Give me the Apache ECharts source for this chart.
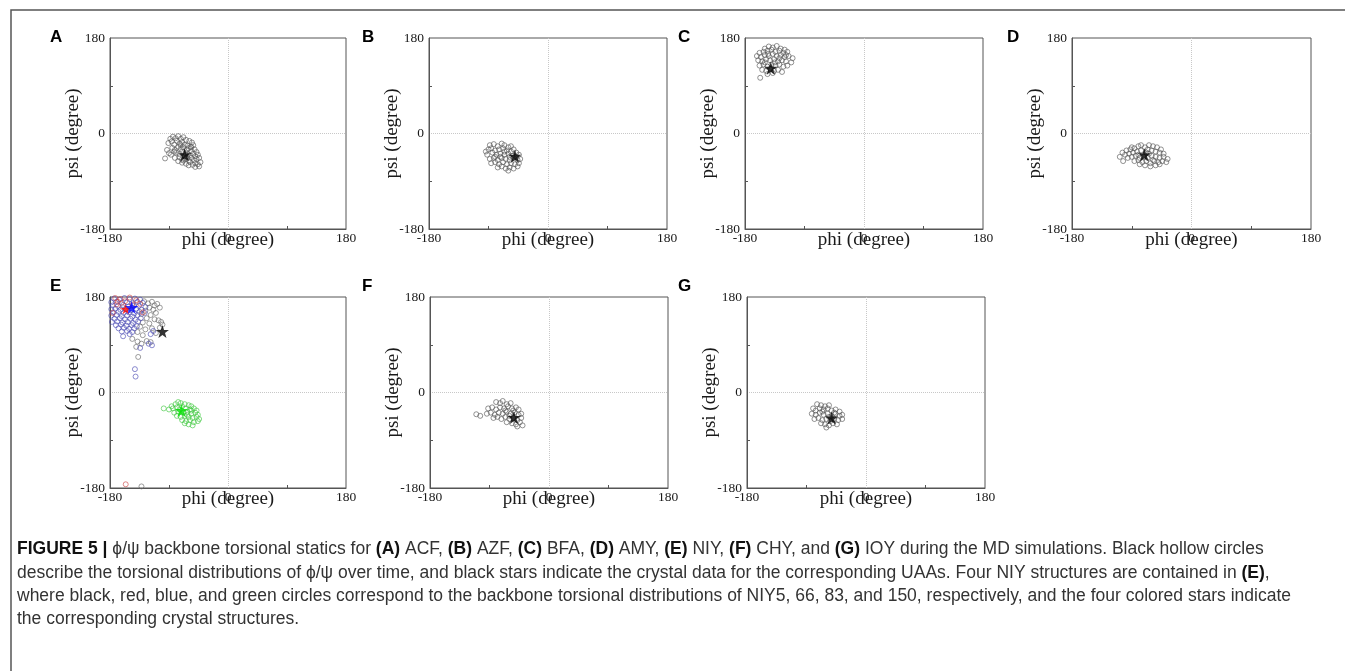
<!DOCTYPE html>
<html>
<head>
<meta charset="utf-8">
<script src="https://cdn.jsdelivr.net/npm/echarts@6/dist/echarts.min.js"></script>
<style>
  html, body { margin: 0; padding: 0; background: #fff; }
  #chart { width: 1345px; height: 671px; }
</style>
</head>
<body>
<div id="chart"></div>
<script>
// phi/psi pairs
var aPts = [[-88,-10],[-84,-6],[-80,-9],[-76,-5],[-72,-10],[-68,-7],[-64,-12],[-59,-14],[-55,-17],
  [-91,-18],[-86,-15],[-82,-21],[-78,-14],[-74,-19],[-70,-16],[-66,-21],[-62,-23],[-57,-25],[-53,-22],
  [-93,-31],[-85,-27],[-81,-31],[-76,-25],[-72,-29],[-68,-26],[-63,-31],[-60,-28],[-56,-33],[-51,-30],[-48,-35],
  [-96,-47],[-87,-40],[-79,-36],[-74,-39],[-70,-34],[-65,-37],[-61,-39],[-58,-41],[-53,-38],[-50,-43],[-46,-40],
  [-81,-46],[-74,-45],[-70,-49],[-64,-47],[-60,-51],[-56,-46],[-52,-50],[-48,-48],[-44,-46],
  [-70,-55],[-64,-57],[-58,-54],[-54,-59],[-50,-56],[-46,-58],[-42,-54],[-44,-62],[-50,-63],[-60,-60],
  [-90,-37],[-82,-34],[-66,-43],[-72,-22],[-62,-45],[-56,-26],[-68,-51],[-76,-52]];
var aStar = [[-66,-40]];

var bPts = [[-88,-22],[-82,-20],[-76,-24],[-70,-19],[-66,-22],[-60,-26],[-56,-24],
  [-90,-30],[-86,-28],[-80,-32],[-74,-30],[-68,-28],[-62,-32],[-56,-34],[-52,-30],[-48,-36],
  [-92,-40],[-84,-36],[-78,-40],[-72,-38],[-66,-40],[-60,-38],[-54,-42],[-48,-44],[-44,-40],
  [-88,-48],[-82,-46],[-76,-50],[-70,-46],[-64,-48],[-58,-50],[-52,-46],[-46,-50],[-42,-48],
  [-86,-56],[-80,-54],[-74,-58],[-68,-54],[-62,-58],[-56,-56],[-50,-58],[-44,-56],
  [-76,-64],[-70,-62],[-64,-66],[-58,-64],[-52,-66],[-46,-62],[-60,-70],
  [-94,-34],[-72,-44],[-66,-34],[-58,-44],[-80,-44]];
var bStar = [[-50,-43]];

var cPts = [[-150,160],[-144,164],[-138,162],[-132,165],[-126,160],[-120,158],
  [-158,152],[-152,154],[-146,156],[-140,158],[-134,154],[-128,156],[-122,152],[-116,154],
  [-162,146],[-156,144],[-150,148],[-144,146],[-138,150],[-132,146],[-126,148],[-120,144],[-114,146],[-108,142],
  [-160,138],[-154,136],[-148,140],[-142,138],[-136,140],[-130,136],[-124,138],[-118,136],[-110,134],
  [-158,128],[-152,130],[-146,126],[-140,130],[-134,128],[-128,130],[-122,126],[-116,128],
  [-154,120],[-148,118],[-142,122],[-136,118],[-130,120],[-124,116],
  [-146,112],[-138,114],[-157,105],
  [-145,150],[-135,134],[-128,142],[-150,134],[-118,148]];
var cStar = [[-141,123]];

var dPts = [[-104,-36],[-98,-32],[-92,-30],[-86,-28],[-80,-24],[-76,-22],[-70,-26],[-64,-22],[-58,-24],[-52,-26],[-46,-30],
  [-108,-44],[-100,-40],[-94,-38],[-88,-36],[-82,-34],[-76,-32],[-66,-30],[-60,-32],[-54,-34],[-48,-36],[-42,-38],
  [-103,-52],[-96,-46],[-90,-44],[-84,-42],[-78,-46],[-72,-44],[-66,-46],[-60,-42],[-54,-44],[-48,-46],[-42,-44],[-36,-48],
  [-86,-52],[-80,-50],[-74,-54],[-68,-52],[-62,-56],[-56,-52],[-50,-54],[-44,-52],[-38,-54],
  [-78,-58],[-70,-60],[-62,-62],[-54,-60],[-48,-58],
  [-90,-26],[-64,-38],[-58,-50],[-68,-36],[-80,-40]];
var dStar = [[-71,-40]];

var eBlue = [[-174,177],[-166,175],[-158,178],[-150,176],[-142,177],[-134,175],
  [-178,170],[-170,171],[-162,169],[-154,170],[-146,168],[-138,171],[-130,169],
  [-176,164],[-168,163],[-160,165],[-152,162],[-144,164],[-136,163],[-126,161],
  [-178,157],[-172,158],[-164,156],[-156,157],[-148,155],[-140,158],[-132,156],
  [-175,151],[-167,152],[-159,150],[-151,151],[-143,149],[-135,152],[-127,150],
  [-178,145],[-170,146],[-162,144],[-154,145],[-146,143],[-138,146],
  [-173,139],[-165,140],[-157,138],[-149,139],[-141,137],[-133,140],
  [-177,133],[-169,134],[-161,132],[-153,133],[-145,131],[-137,134],
  [-171,127],[-163,128],[-155,126],[-147,127],[-139,125],
  [-167,121],[-159,122],[-151,120],[-143,121],
  [-162,115],[-154,116],[-146,114],
  [-160,106],[-150,110],[-118,110],[-114,116],[-121,92],[-116,89],[-142,44],[-141,30],[-134,84]];
var eBlack = [[-128,172],[-122,168],[-116,171],[-112,164],[-108,167],[-104,160],[-120,160],[-114,156],
  [-126,154],[-110,150],[-118,146],[-132,148],[-124,140],[-112,138],[-106,136],[-130,132],[-120,130],
  [-100,128],[-134,124],[-126,119],[-116,121],[-138,114],[-130,108],[-104,122],[-110,112],[-146,101],
  [-138,96],[-132,92],[-124,97],[-140,86],[-118,95],[-137,67],[-132,-177],[-102,133]];
var eRed = [[-172,178],[-164,176],[-157,172],[-150,179],[-170,166],[-161,161],[-140,174],[-134,167],
  [-146,165],[-176,150],[-130,151],[-168,171],[-156,-173]];
var eGreen = [[-98,-30],[-86,-26],[-80,-22],[-76,-18],[-72,-20],[-66,-22],[-60,-24],[-56,-26],
  [-90,-32],[-84,-30],[-78,-28],[-70,-26],[-64,-30],[-58,-32],[-52,-30],[-48,-34],
  [-82,-38],[-76,-36],[-68,-38],[-62,-36],[-56,-40],[-50,-38],[-46,-42],
  [-78,-44],[-72,-46],[-66,-44],[-60,-46],[-54,-48],[-48,-46],[-44,-50],
  [-70,-52],[-64,-54],[-58,-52],[-52,-56],[-46,-54],[-60,-60],[-54,-62],[-66,-58],
  [-74,-32],[-62,-42],[-56,-34]];
var eStarBlack = [[-100,115]];
var eStarRed = [[-156,157]];
var eStarBlue = [[-147,160]];
var eStarGreen = [[-71,-34]];

var fPts = [[-110,-41],[-104,-44],
  [-80,-18],[-74,-20],[-70,-16],[-64,-22],[-58,-20],
  [-92,-30],[-86,-28],[-80,-32],[-74,-28],[-68,-30],[-62,-26],[-56,-30],[-50,-28],[-46,-32],
  [-94,-40],[-88,-38],[-82,-42],[-76,-38],[-70,-40],[-64,-36],[-58,-40],[-52,-38],[-46,-42],[-42,-40],
  [-84,-48],[-78,-46],[-72,-50],[-66,-46],[-60,-50],[-54,-48],[-48,-52],[-42,-48],
  [-64,-56],[-56,-58],[-50,-60],[-44,-56],[-40,-62],[-48,-64],
  [-66,-34],[-60,-44],[-54,-34]];
var fStar = [[-53,-47]];

var gPts = [[-74,-22],[-68,-24],[-62,-26],[-56,-24],
  [-80,-30],[-76,-34],[-70,-30],[-64,-32],[-58,-30],[-52,-34],[-46,-32],[-40,-36],
  [-82,-40],[-76,-42],[-70,-38],[-64,-42],[-58,-40],[-52,-44],[-46,-40],[-40,-44],[-36,-42],
  [-78,-50],[-72,-48],[-66,-52],[-60,-50],[-54,-54],[-48,-50],[-42,-52],[-36,-50],
  [-68,-58],[-62,-60],[-56,-62],[-50,-58],[-44,-60],[-60,-66],
  [-66,-36],[-56,-46],[-48,-38]];
var gStar = [[-52,-48]];

var panelLetters = ["A", "B", "C", "D", "E", "F", "G"];
var captionLines = [
  "{b|FIGURE 5 |} ϕ/ψ backbone torsional statics for {b|(A)} ACF, {b|(B)} AZF, {b|(C)} BFA, {b|(D)} AMY, {b|(E)} NIY, {b|(F)} CHY, and {b|(G)} IOY during the MD simulations. Black hollow circles",
  "describe the torsional distributions of ϕ/ψ over time, and black stars indicate the crystal data for the corresponding UAAs. Four NIY structures are contained in {b|(E)},",
  "where black, red, blue, and green circles correspond to the backbone torsional distributions of NIY5, 66, 83, and 150, respectively, and the four colored stars indicate",
  "the corresponding crystal structures."
];

var SERIF = "Liberation Serif";
var SANS = "Liberation Sans";
var STAR = "path://M50,2 L61.8,36.4 L98,36.4 L68.9,57.8 L79.9,92.5 L50,71.2 L20.1,92.5 L31.1,57.8 L2,36.4 L38.2,36.4 Z";

var boxes = [
  { left: 110, top: 38, width: 236, lx: 50, ly: 37 },
  { left: 429, top: 38, width: 238, lx: 362, ly: 37 },
  { left: 745, top: 38, width: 238, lx: 678, ly: 37 },
  { left: 1072, top: 38, width: 239, lx: 1007, ly: 37 },
  { left: 110, top: 297, width: 236, lx: 50, ly: 286 },
  { left: 430, top: 297, width: 238, lx: 362, ly: 286 },
  { left: 747, top: 297, width: 238, lx: 678, ly: 286 }
];

function axisBase(i, name, gap, labelMargin) {
  return {
    gridIndex: i,
    type: "value",
    min: -180,
    max: 180,
    interval: 180,
    name: name,
    nameLocation: "middle",
    nameGap: gap,
    nameMoveOverlap: false,
    nameTextStyle: { fontFamily: SERIF, fontSize: 19, color: "#1a1a1a" },
    axisLine: { show: true, onZero: false, lineStyle: { color: "#555", width: 1 } },
    axisTick: { show: false, inside: true },
    minorTick: { show: true, splitNumber: 2, length: 3, lineStyle: { color: "#555" } },
    axisLabel: { margin: labelMargin, fontFamily: SERIF, fontSize: 13.5, color: "#1a1a1a" },
    splitLine: { show: true, showMinLine: false, showMaxLine: false,
      lineStyle: { color: "#c8c8c8", type: "dotted", width: 1 } }
  };
}

function circles(i, data, color) {
  return {
    type: "scatter", xAxisIndex: i, yAxisIndex: i, data: data,
    symbol: "circle", symbolSize: 5, silent: true,
    itemStyle: { color: "rgba(0,0,0,0)", borderColor: color, borderWidth: 0.8 }
  };
}

function star(i, data, color, size) {
  return {
    type: "scatter", xAxisIndex: i, yAxisIndex: i, data: data, z: 5,
    symbol: STAR, symbolSize: size || 13, silent: true,
    itemStyle: { color: color }
  };
}

var grids = [], xAxes = [], yAxes = [], graphics = [];
boxes.forEach(function (b, i) {
  grids.push({ left: b.left, top: b.top, width: b.width, height: 191, show: true,
    borderColor: "#555", borderWidth: 1, outerBoundsMode: "none" });
  xAxes.push(axisBase(i, "phi (degree)", 2, 2));
  yAxes.push(axisBase(i, "psi (degree)", 27, 5));
  graphics.push({ type: "text", x: b.lx, y: b.ly,
    style: { text: panelLetters[i], fontFamily: SANS, fontSize: 17, fontWeight: "bold",
      fill: "#000", verticalAlign: "middle" } });
});

var series = [
  circles(0, aPts, "#555"), star(0, aStar, "#000"),
  circles(1, bPts, "#555"), star(1, bStar, "#000"),
  circles(2, cPts, "#555"), star(2, cStar, "#000"),
  circles(3, dPts, "#555"), star(3, dStar, "#000"),
  circles(4, eBlack, "#666"), circles(4, eBlue, "#4a4ab4"), circles(4, eRed, "#cc4444"),
  circles(4, eGreen, "#3fc83f"),
  star(4, eStarBlack, "#000"), star(4, eStarRed, "#ff0000", 10), star(4, eStarBlue, "#0000ff"),
  star(4, eStarGreen, "#00e000"),
  circles(5, fPts, "#555"), star(5, fStar, "#000"),
  circles(6, gPts, "#555"), star(6, gStar, "#000")
];

// frame around the figure
graphics.push({ type: "rect", shape: { x: 11, y: 10, width: 1400, height: 700 },
  style: { fill: "none", stroke: "#555", lineWidth: 1.5 } });

var lineY = [549, 573, 596, 619];
captionLines.forEach(function (t, k) {
  graphics.push({ type: "text", x: 17, y: lineY[k],
    style: { text: t, fontFamily: SANS, fontSize: 17.5, fill: "#333", verticalAlign: "middle",
      rich: { b: { fontFamily: SANS, fontSize: 17.5, fontWeight: "bold", fill: "#111" } } } });
});

var myChart = echarts.init(document.getElementById("chart"));
myChart.setOption({
  animation: false,
  backgroundColor: "#fff",
  grid: grids,
  xAxis: xAxes,
  yAxis: yAxes,
  series: series,
  graphic: graphics
});
</script>
</body>
</html>
